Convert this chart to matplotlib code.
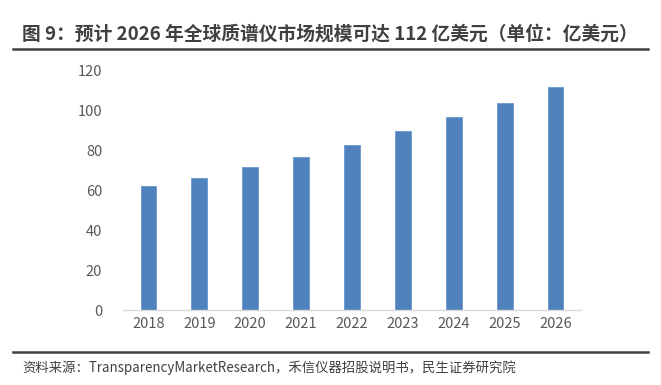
import matplotlib
matplotlib.use("Agg")
import matplotlib.pyplot as plt
from matplotlib.lines import Line2D

plt.rcParams['font.family'] = ['Noto Sans CJK SC', 'DejaVu Sans']

years = ['2018', '2019', '2020', '2021', '2022', '2023', '2024', '2025', '2026']
values = [62, 66, 71.5, 76.5, 82.5, 89.5, 96.5, 103.5, 111.5]
yticks = [0, 20, 40, 60, 80, 100, 120]
title = '图 9：预计 2026 年全球质谱仪市场规模可达 112 亿美元（单位：亿美元）'
source = '资料来源：TransparencyMarketResearch，禾信仪器招股说明书，民生证券研究院'

W, H = 661, 385
fig = plt.figure(figsize=(W / 100, H / 100), dpi=100)
fig.patch.set_facecolor('white')

# axes in pixel coords: x 123..581, y (top) 70..310
ax = fig.add_axes([123 / W, 1 - 310 / H, (581 - 123) / W, (310 - 70) / H])
x = range(len(years))
ax.bar(x, values, width=0.31, color='#4f81bd', edgecolor='#6a98d0', linewidth=0.6, zorder=2)
ax.set_xlim(-0.5, len(years) - 0.5)
ax.set_ylim(0, 120)
ax.set_yticks(yticks)
ax.set_xticks(list(x))
ax.set_xticklabels(years)
for s in ['top', 'right', 'left']:
    ax.spines[s].set_visible(False)
ax.spines['bottom'].set_color('#d9d9d9')
ax.spines['bottom'].set_linewidth(1.0)
ax.tick_params(axis='both', length=0, labelsize=10.5, colors='#595959')
ax.tick_params(axis='y', pad=15)
ax.tick_params(axis='x', pad=5)

# title
fig.text(22 / W, 1 - 34 / H, title, fontsize=13.5, fontweight='bold', color='#404040',
         ha='left', va='center')
fig.add_artist(Line2D([13 / W, 648 / W], [1 - 49 / H, 1 - 49 / H], color='#404040', linewidth=1.8))

# footer
fig.add_artist(Line2D([13 / W, 648 / W], [1 - 352 / H, 1 - 352 / H], color='#404040', linewidth=1.8))
fig.text(22 / W, 1 - 368 / H, source, fontsize=9.6, color='#404040', ha='left', va='center')

fig.savefig('out.png', dpi=100, facecolor='white')
